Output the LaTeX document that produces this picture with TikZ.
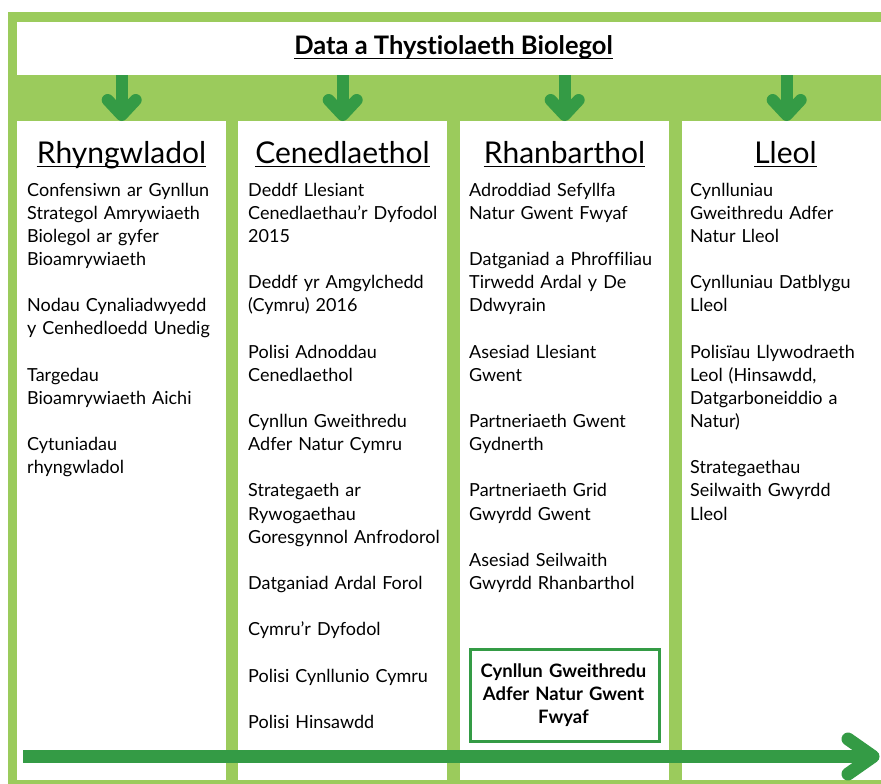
\documentclass[tikz,border=0pt]{standalone}
\usepackage{fontspec}
\setmainfont{Lato}[Ligatures=NoCommon]
\usetikzlibrary{calc}
\definecolor{lgreen}{RGB}{155,203,92}
\definecolor{dgreen}{RGB}{52,155,69}
\begin{document}
\begin{tikzpicture}[x=1pt,y=-1pt,
  colbox/.style={fill=white, draw=none, inner sep=0pt, anchor=north west, minimum width=209pt, minimum height=659pt},
  body/.style={inner sep=0pt, anchor=base west, text width=215pt, align=left, font=\fontsize{18}{23.15}\selectfont},
  head/.style={inner sep=0pt, anchor=base, font=\fontsize{30}{36}\selectfont},
  uline/.style={draw=black, line width=1.6pt},
  stem/.style={draw=dgreen, line width=12pt},
  chev/.style={draw=dgreen, line width=12pt, line cap=round, line join=round},
  bigarrow/.style={draw=dgreen, line width=13pt}]
\useasboundingbox (0,0) rectangle (881,784);
\clip (0,0) rectangle (881,784);
\fill[white] (0,0) rectangle (881,784);
\fill[lgreen] (8,12) rectangle (900,784);
% title box
\node[fill=white, inner sep=0pt, anchor=north west, minimum width=883pt, minimum height=53pt] (tb) at (17,22) {};
\node[inner sep=0pt, anchor=base, font=\fontsize{25.5}{30}\bfseries\selectfont] (title) at (453.5,55) {Data a Thystiolaeth Biolegol};
\draw[uline] ([yshift=-3.5pt]title.base west) -- ([yshift=-3.5pt]title.base east);
% columns
\node[colbox] (c1) at (17,121) {};
\node[colbox] (c2) at (238,121) {};
\node[colbox] (c3) at (460,121) {};
\node[colbox] (c4) at (682,121) {};
% down arrows
\foreach \c in {c1,c2,c3,c4}{
  \draw[stem] (\c.north |- tb.south) -- ($(\c.north)+(0,-12)$);
  \draw[chev] ($(\c.north)+(-14,-21)$) -- ($(\c.north)+(0,-6)$) -- ($(\c.north)+(14,-21)$);
}
% headings
\node[head] (h1) at (121.5,163) {Rhyngwladol};
\node[head] (h2) at (342.5,163) {Cenedlaethol};
\node[head] (h3) at (564.5,163) {Rhanbarthol};
\node[head] (h4) at (785.5,163) {Lleol};
\foreach \h in {h1,h2,h3,h4}{
  \draw[uline] ([yshift=-3.5pt]\h.base west) -- ([yshift=-3.5pt]\h.base east);
}
% body texts
\node[body] (t1) at (27,196) {Confensiwn ar Gynllun\\Strategol Amrywiaeth\\Biolegol ar gyfer\\Bioamrywiaeth\\[23.15pt]
Nodau Cynaliadwyedd\\y Cenhedloedd Unedig\\[23.15pt]
Targedau\\Bioamrywiaeth Aichi\\[23.15pt]
Cytuniadau\\rhyngwladol};
\node[body] (t2) at (248,196) {Deddf Llesiant\\Cenedlaethau’r Dyfodol\\2015\\[23.15pt]
Deddf yr Amgylchedd\\(Cymru) 2016\\[23.15pt]
Polisi Adnoddau\\Cenedlaethol\\[23.15pt]
Cynllun Gweithredu\\Adfer Natur Cymru\\[23.15pt]
Strategaeth ar\\Rywogaethau\\Goresgynnol Anfrodorol\\[23.15pt]
Datganiad Ardal Forol\\[23.15pt]
Cymru’r Dyfodol\\[23.15pt]
Polisi Cynllunio Cymru\\[23.15pt]
Polisi Hinsawdd};
\node[body] (t3) at (469,196) {Adroddiad Sefyllfa\\Natur Gwent Fwyaf\\[23.15pt]
Datganiad a Phroffiliau\\Tirwedd Ardal y De\\Ddwyrain\\[23.15pt]
Asesiad Llesiant\\Gwent\\[23.15pt]
Partneriaeth Gwent\\Gydnerth\\[23.15pt]
Partneriaeth Grid\\Gwyrdd Gwent\\[23.15pt]
Asesiad Seilwaith\\Gwyrdd Rhanbarthol};
\node[body] (t4) at (690,196) {Cynlluniau\\Gweithredu Adfer\\Natur Lleol\\[23.15pt]
Cynlluniau Datblygu\\Lleol\\[23.15pt]
Polisïau Llywodraeth\\Leol (Hinsawdd,\\Datgarboneiddio a\\Natur)\\[23.15pt]
Strategaethau\\Seilwaith Gwyrdd\\Lleol};
% highlighted box
\node[draw=dgreen, line width=2.5pt, fill=white, inner sep=0pt, anchor=north west, minimum width=189pt, minimum height=92pt] (gb) at (469,648) {};
\node[inner sep=0pt, anchor=base, text width=189pt, align=center, font=\fontsize{18.5}{23.15}\bfseries\selectfont] (gbt) at (563.5,677) {Cynllun Gweithredu\\Adfer Natur Gwent\\Fwyaf};
% bottom arrow
\coordinate (bs) at (23,756.5);
\coordinate (be) at (866,756.5);
\coordinate (tip) at (873,756.5);
\draw[bigarrow] (bs) -- (be);
\draw[bigarrow, line cap=round, line join=round] ($(tip)+(-25,-17.5)$) -- (tip) -- ($(tip)+(-25,17.5)$);
\end{tikzpicture}
\end{document}
